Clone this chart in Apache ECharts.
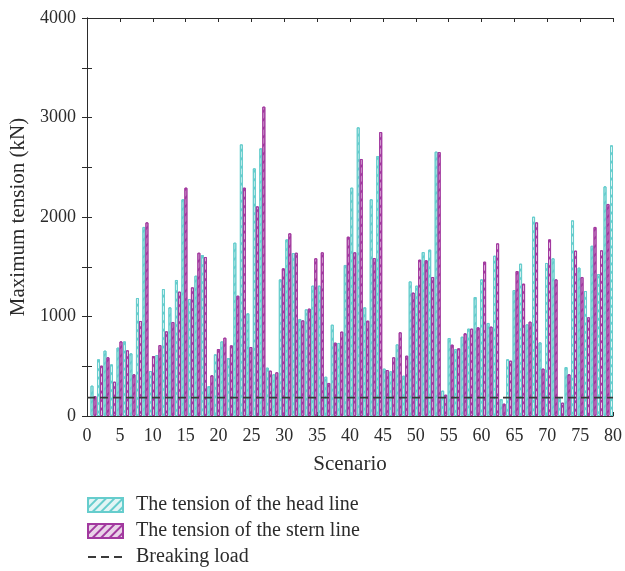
<!DOCTYPE html>
<html>
<head>
<meta charset="utf-8">
<script src="https://cdn.jsdelivr.net/npm/echarts@6/dist/echarts.min.js"></script>
<style>
  html, body { margin: 0; padding: 0; background: #fff; }
  #chart { width: 625px; height: 571px; }
</style>
</head>
<body>
<div id="chart"></div>
<script>
// Maximum tension per scenario (kN), head line and stern line
const headTension = [
  305, 570, 657, 519, 687, 750, 630, 1186, 1900, 452,
  613, 1276, 1092, 1367, 2178, 1176, 1410, 1618, 301, 620,
  750, 583, 1742, 2730, 1032, 2489, 2690, 486, 419, 1373,
  1775, 1638, 975, 1072, 1310, 1310, 395, 918, 734, 1518,
  2295, 2901, 1092, 2178, 2613, 476, 449, 720, 405, 1353,
  1310, 1648, 1672, 2657, 255, 784, 673, 797, 878, 1196,
  1373, 935, 1611, 171, 570, 1266, 1531, 921, 2003, 740,
  1538, 1585, 178, 492, 1966, 1491, 1256, 1711, 1427, 2308,
  2720
];
// the last stern bar falls outside the axis range and is not shown
const sternTension = [
  200, 506, 590, 345, 750, 660, 419, 955, 1946, 603,
  713, 851, 945, 1250, 2295, 1293, 1641, 1598, 409, 673,
  787, 710, 1209, 2295, 693, 2107, 3109, 456, 439, 1484,
  1836, 1641, 961, 1079, 1585, 1645, 332, 737, 848, 1802,
  1645, 2583, 958, 1588, 2854, 462, 590, 841, 606, 1240,
  1571, 1565, 1397, 2653, 214, 717, 680, 831, 878, 891,
  1551, 898, 1735, 124, 556, 1457, 1330, 948, 1946, 476,
  1775, 1373, 134, 419, 1662, 1397, 992, 1900, 1665, 2131,
  null
];
const breakingLoad = 185;
const scenarioRange = [0, 80];
const tensionRange = [0, 4000];

const seriesNames = ['The tension of the head line', 'The tension of the stern line', 'Breaking load'];

const FONT = '"Liberation Serif", "DejaVu Serif", serif';
const INK = '#2b2b2b';
const HEAD_EDGE = '#66cdcd';
const HEAD_FILL = '#e2f5f5';
const STERN_EDGE = '#a2399f';
const STERN_FILL = '#e9d3e8';

function hatch(color) {
  return {
    symbol: 'rect',
    symbolSize: 1,
    color: color,
    dashArrayX: [1, 0],
    dashArrayY: [1.2, 3.5],
    rotation: -Math.PI / 4
  };
}

const chart = echarts.init(document.getElementById('chart'), null, { renderer: 'canvas' });

const frameLine = { show: true, lineStyle: { color: INK, width: 1 } };

chart.setOption({
  animation: false,
  backgroundColor: '#fff',
  textStyle: { fontFamily: FONT, color: INK },
  grid: { left: 87, right: 11, top: 18, bottom: 155, containLabel: false },
  legend: {
    orient: 'vertical',
    left: 87,
    top: 495,
    height: 80,
    padding: 0,
    itemWidth: 35,
    itemHeight: 14,
    itemGap: 6,
    data: [
      { name: seriesNames[0], icon: 'rect' },
      { name: seriesNames[1], icon: 'rect' },
      { name: seriesNames[2], itemStyle: { color: 'rgba(0,0,0,0)', borderWidth: 0, opacity: 0 } }
    ],
    textStyle: { fontFamily: FONT, fontSize: 20, color: INK, padding: [0, 0, 0, 8] }
  },
  xAxis: [
    {
      type: 'value', position: 'bottom',
      min: scenarioRange[0], max: scenarioRange[1], interval: 5,
      name: 'Scenario', nameLocation: 'middle', nameGap: 38,
      nameTextStyle: { fontFamily: FONT, fontSize: 21, color: INK },
      axisLine: frameLine,
      axisTick: { show: true, inside: true, length: 4, lineStyle: { color: INK } },
      axisLabel: { fontFamily: FONT, fontSize: 18, color: INK, margin: 11 },
      splitLine: { show: false }
    },
    {
      // scenario positions of the bar pairs
      type: 'value', position: 'bottom', show: false,
      min: 0, max: headTension.length,
      splitLine: { show: false }
    },
    {
      type: 'value', position: 'top',
      min: scenarioRange[0], max: scenarioRange[1], interval: 5,
      axisLine: frameLine,
      axisTick: { show: true, inside: true, length: 4, lineStyle: { color: INK } },
      axisLabel: { show: false },
      splitLine: { show: false }
    }
  ],
  yAxis: [
    {
      type: 'value', position: 'left',
      min: tensionRange[0], max: tensionRange[1], interval: 500,
      name: 'Maximum tension (kN)', nameLocation: 'middle', nameGap: 57,
      nameTextStyle: { fontFamily: FONT, fontSize: 21, color: INK },
      axisLine: frameLine,
      axisTick: { show: true, inside: true, length: 5, lineStyle: { color: INK } },
      axisLabel: {
        fontFamily: FONT, fontSize: 18, color: INK, margin: 11,
        formatter: v => (v % 1000 === 0 ? String(v) : '')
      },
      splitLine: { show: false }
    },
    {
      type: 'value', position: 'right',
      min: tensionRange[0], max: tensionRange[1], interval: 500,
      axisLine: frameLine,
      axisTick: { show: true, inside: true, length: 5, lineStyle: { color: INK } },
      axisLabel: { show: false },
      splitLine: { show: false }
    }
  ],
  series: [
    {
      name: seriesNames[0],
      type: 'bar',
      xAxisIndex: 1, yAxisIndex: 0,
      barWidth: 3, barGap: '0%',
      clip: true,
      itemStyle: { color: HEAD_FILL, borderColor: HEAD_EDGE, borderWidth: 1, decal: hatch(HEAD_EDGE) },
      data: headTension.map((v, i) => [i + 1, v])
    },
    {
      name: seriesNames[1],
      type: 'bar',
      xAxisIndex: 1, yAxisIndex: 0,
      barWidth: 3, barGap: '0%',
      clip: true,
      itemStyle: { color: STERN_FILL, borderColor: STERN_EDGE, borderWidth: 1, decal: hatch(STERN_EDGE) },
      data: sternTension.map((v, i) => [i + 1, v])
    },
    {
      name: seriesNames[2],
      type: 'line',
      xAxisIndex: 0, yAxisIndex: 0,
      symbol: 'none',
      z: 5,
      lineStyle: { color: '#3a3a3a', width: 1.6, type: [8, 5] },
      itemStyle: { color: '#3a3a3a' },
      data: [[scenarioRange[0], breakingLoad], [scenarioRange[1], breakingLoad]]
    }
  ]
});
</script>
</body>
</html>
